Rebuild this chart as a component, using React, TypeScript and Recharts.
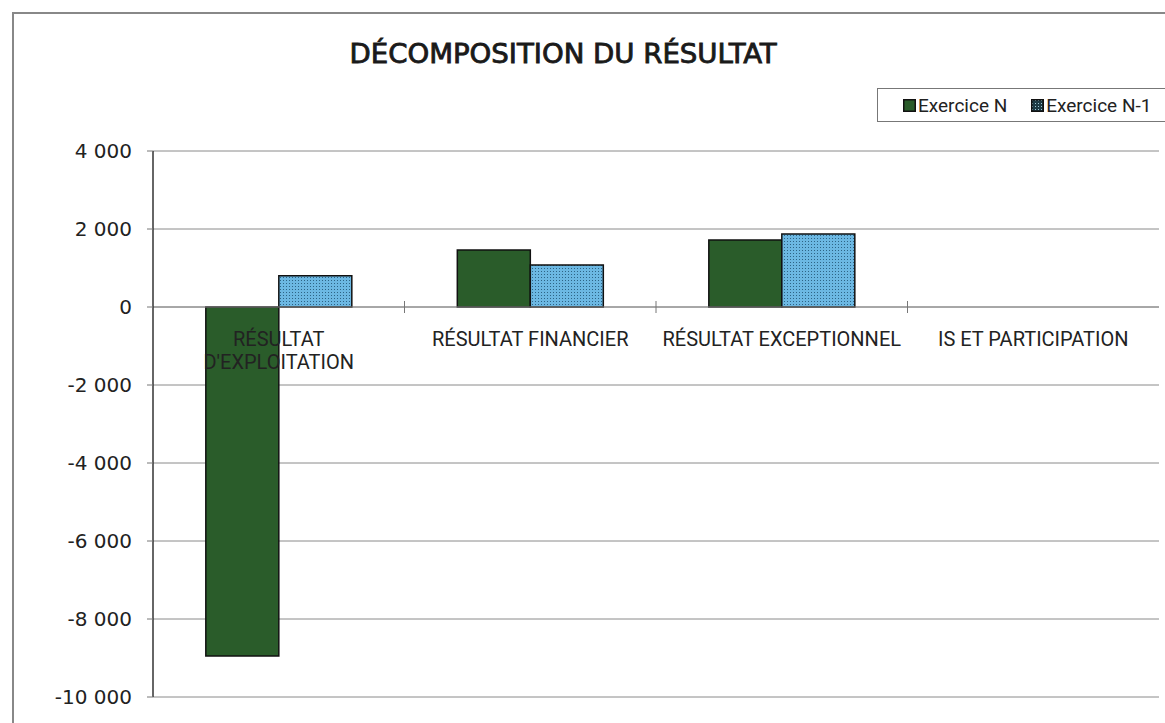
import React from "react";
import {
  BarChart,
  Bar,
  XAxis,
  YAxis,
  CartesianGrid,
  ReferenceLine,
} from "recharts";

const categories = [
  "RÉSULTAT D'EXPLOITATION",
  "RÉSULTAT FINANCIER",
  "RÉSULTAT EXCEPTIONNEL",
  "IS ET PARTICIPATION",
];
const exerciceN = [-8950, 1460, 1720, null];
const exerciceN1 = [800, 1080, 1870, null];
const yTicks = [4000, 2000, 0, -2000, -4000, -6000, -8000, -10000];
const seriesNames = ["Exercice N", "Exercice N-1"];

const data = categories.map((name, i) => ({
  name,
  n: exerciceN[i],
  n1: exerciceN1[i],
}));

const GREEN = "#2a5c2a";
const LABEL_FONT = "Roboto, 'Liberation Sans', sans-serif";
const NUM_FONT = "'DejaVu Sans', Verdana, sans-serif";

const fmt = (v: number) => {
  const s = Math.abs(v)
    .toString()
    .replace(/\B(?=(\d{3})+(?!\d))/g, " ");
  return v < 0 ? "-" + s : s;
};

// long labels go on two lines, like the original
const splitLabel = (c: string) => (c.length > 22 ? c.split(" ") : [c]);

// category labels + boundary ticks drawn on the zero line
const ZeroAxis = (props: any) => {
  const { x, y, width } = props.viewBox;
  const bw = width / categories.length;
  return (
    <g>
      {categories.map((c, i) => (
        <g key={c}>
          {i > 0 && (
            <line
              x1={x + bw * i}
              x2={x + bw * i}
              y1={y - 6}
              y2={y + 6}
              stroke="#777"
            />
          )}
          <text
            x={x + bw * (i + 0.5)}
            y={y + 39}
            textAnchor="middle"
            fontSize={20}
            fontFamily={LABEL_FONT}
            fill="#222"
          >
            {splitLabel(c).map((line, k) => (
              <tspan key={k} x={x + bw * (i + 0.5)} dy={k === 0 ? 0 : 23}>
                {line}
              </tspan>
            ))}
          </text>
        </g>
      ))}
    </g>
  );
};

const Swatch = ({ pattern }: { pattern: boolean }) => (
  <svg width={13} height={13} style={{ marginRight: 2 }}>
    <rect
      x={0.75}
      y={0.75}
      width={11.5}
      height={11.5}
      fill={pattern ? "url(#dotsDark)" : GREEN}
      stroke="#111"
      strokeWidth={1.5}
    />
  </svg>
);

export default function App() {
  return (
    <div
      style={{
        position: "fixed",
        left: 0,
        top: 0,
        width: 1165,
        height: 723,
        overflow: "hidden",
        background: "#fff",
      }}
    >
      <svg width={0} height={0} style={{ position: "absolute" }}>
        <defs>
          <pattern id="dots" width="3" height="3" patternUnits="userSpaceOnUse">
            <rect width="3" height="3" fill="#6cb8e3" />
            <rect x="1" y="1" width="1" height="1" fill="#2d6486" />
          </pattern>
          <pattern id="dotsDark" width="3" height="3" patternUnits="userSpaceOnUse">
            <rect width="3" height="3" fill="#1d3b45" />
            <rect x="1" y="1" width="1" height="1" fill="#9cc7d6" />
          </pattern>
        </defs>
      </svg>
      <div
        style={{
          position: "absolute",
          left: 12,
          top: 12,
          width: 1200,
          height: 800,
          border: "2px solid #888",
        }}
      />
      <svg
        width={1165}
        height={80}
        style={{ position: "absolute", left: 0, top: 0 }}
      >
        <text
          x={563}
          y={63}
          textAnchor="middle"
          fontFamily="'DejaVu Sans Condensed', 'DejaVu Sans', sans-serif"
          fontSize={27}
          fill="#1a1a1a"
          stroke="#1a1a1a"
          strokeWidth={0.8}
          textLength={427}
          lengthAdjust="spacingAndGlyphs"
        >
          DÉCOMPOSITION DU RÉSULTAT
        </text>
      </svg>
      <div
        style={{
          position: "absolute",
          left: 877,
          top: 88,
          width: 320,
          height: 34,
          border: "1.5px solid #777",
          background: "#fff",
          display: "flex",
          alignItems: "center",
          fontSize: 19,
          fontFamily: LABEL_FONT,
          color: "#222",
          paddingLeft: 25,
          boxSizing: "border-box",
        }}
      >
        {seriesNames.map((s, i) => (
          <span
            key={s}
            style={{
              display: "inline-flex",
              alignItems: "center",
              marginRight: 24,
            }}
          >
            <Swatch pattern={i === 1} />
            {s}
          </span>
        ))}
      </div>
      <div style={{ position: "absolute", left: 0, top: 0 }}>
        <BarChart
          width={1165}
          height={723}
          data={data}
          margin={{ top: 151, right: 6, bottom: 26, left: 73 }}
          barCategoryGap="21%"
          barGap={0}
        >
          <CartesianGrid vertical={false} stroke="#8a8a8a" />
          <XAxis dataKey="name" hide />
          <YAxis
            domain={[-10000, 4000]}
            ticks={yTicks}
            interval={0}
            width={80}
            tickFormatter={fmt}
            axisLine={{ stroke: "#333", strokeWidth: 1.5 }}
            tickLine={{ stroke: "#777" }}
            tickSize={6}
            tickMargin={15}
            tick={{ fill: "#222", fontSize: 20, fontFamily: NUM_FONT }}
          />
          <YAxis
            yAxisId="r"
            orientation="right"
            domain={[-10000, 4000]}
            width={0}
            tick={false}
            tickLine={false}
            axisLine={{ stroke: "#8a8a8a" }}
          />
          <Bar
            dataKey="n"
            name={seriesNames[0]}
            fill={GREEN}
            stroke="#111"
            strokeWidth={1.5}
            isAnimationActive={false}
          />
          <Bar
            dataKey="n1"
            name={seriesNames[1]}
            fill="url(#dots)"
            stroke="#111"
            strokeWidth={1.5}
            isAnimationActive={false}
          />
          <ReferenceLine y={0} stroke="#8a8a8a" label={<ZeroAxis />} />
        </BarChart>
      </div>
    </div>
  );
}
